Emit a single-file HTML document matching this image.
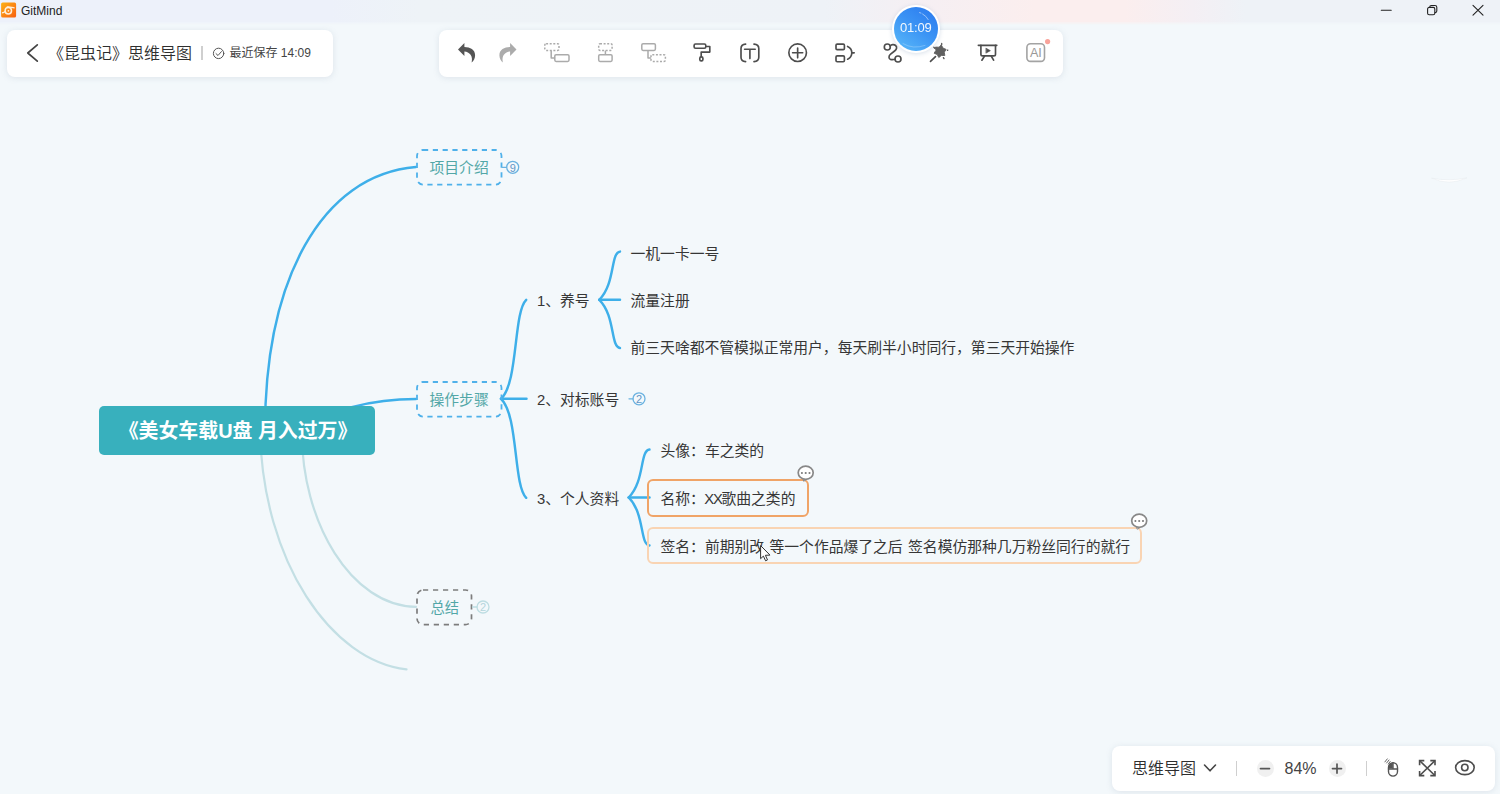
<!DOCTYPE html>
<html lang="zh-CN">
<head>
<meta charset="utf-8">
<title>GitMind</title>
<style>
*{box-sizing:border-box;margin:0;padding:0}
html,body{width:1500px;height:794px;overflow:hidden}
body{position:relative;background:#f3f8fb;font-family:"Liberation Sans","Noto Sans CJK SC",sans-serif;color:#333}
.abs{position:absolute}
#titlebar{left:0;top:0;width:1500px;height:22px;background:linear-gradient(90deg,#edf1fa 0%,#edf1fa 22%,#eef3f7 28%,#eef2f7 55%,#f5eff3 61%,#fbeeee 69%,#fbeeee 75%,#f4eff4 79.5%,#eef2f7 83%,#eef2f7 100%)}
#tfade{left:0;top:22px;width:1500px;height:3px;background:linear-gradient(90deg,#edf1fa 0%,#edf1fa 22%,#eef3f7 28%,#eef2f7 55%,#f5eff3 61%,#fbeeee 69%,#fbeeee 75%,#f4eff4 79.5%,#eef2f7 83%,#eef2f7 100%);-webkit-mask-image:linear-gradient(to bottom,rgba(0,0,0,.8),transparent);mask-image:linear-gradient(to bottom,rgba(0,0,0,.8),transparent)}
#titlebar .name{left:21px;top:3px;font-size:12px;line-height:16px;color:#222}
.panel{background:#fff;border-radius:8px;box-shadow:0 1px 6px rgba(120,140,160,.18)}
#docpanel{left:7px;top:30px;width:326px;height:47px}
#toolbar{left:439px;top:30px;width:624px;height:47px}
#zoompanel{left:1112px;top:746px;width:383px;height:45px}
svg{position:absolute;left:0;top:0;overflow:visible}
.t{position:absolute;white-space:nowrap;line-height:20px;font-size:15px;color:#333}
.dash{border:2px dashed #56b4ea;border-radius:6px}
.dash.g{border-color:#8c8c8c}
.t.l1{font-size:14.8px;color:#52a7a7}
.t{font-size:14.8px;color:#363636}
.t.num{font-size:11px;line-height:12px;width:10px;text-align:center}
</style>
</head>
<body>
<div id="titlebar" class="abs">
  <div class="abs name">GitMind</div>
</div>
<div class="abs" id="tfade"></div>
<div id="docpanel" class="abs panel"></div>
<div id="toolbar" class="abs panel"></div>
<div id="zoompanel" class="abs panel"></div>

<svg id="maplines" width="1500" height="794" viewBox="0 0 1500 794" fill="none" stroke-linecap="round">
  <g stroke="#c3dfe4" stroke-width="2.2">
    <path d="M302,430 C300.6,522 352,606.6 416,606.8"/>
    <path d="M260,430 C262.4,562 331.8,661.3 406.5,669.3"/>
  </g>
  <g stroke="#3eafe9" stroke-width="2.45">
    <path d="M265,430 C265.2,280.4 320.8,174.9 416,167"/>
    <path d="M300,430 C335,408 372,399 416,399"/>
    <path d="M501,398.8 C518.5,382.5 513.2,312.5 526.2,299.8"/>
    <path d="M501,398.8 L526.5,398.8"/>
    <path d="M501,398.8 C518.5,415.1 513.2,485.1 526.2,497.8"/>
    <path d="M599.3,299.8 C615.4,283.9 610.4,252.7 620,251.6"/>
    <path d="M599.3,299.8 L620,299.8"/>
    <path d="M599.3,299.8 C615.4,315.7 610.4,346.9 620,348"/>
    <path d="M628.7,497.5 C644.8,481.6 639.8,450.4 649.5,449.5"/>
    <path d="M628.7,497.5 L649.5,497.5"/>
    <path d="M628.7,497.5 C644.8,513.4 639.8,544.6 649.5,545.5"/>
  </g>
  <g stroke="#4fb1ea" stroke-width="1.8" stroke-dasharray="5.2 4.6" stroke-linecap="butt">
    <rect x="417" y="150" width="84.5" height="34.6" rx="6"/>
    <rect x="417" y="382" width="84.5" height="34.6" rx="6"/>
  </g>
  <rect x="417" y="590" width="54.5" height="34.6" rx="6" stroke="#7d7d7d" stroke-width="1.7" stroke-dasharray="5.2 4.8" stroke-linecap="butt"/>
  <g stroke="#6ab2e0" stroke-width="1.3">
    <path d="M502.3,167.3 L506.5,167.3"/><circle cx="512.7" cy="167.3" r="6"/>
    <path d="M629,398.8 L633,398.8"/><circle cx="639" cy="398.8" r="6"/>
  </g>
  <g stroke="#bddde2" stroke-width="1.3">
    <path d="M472.5,607 L477,607"/><circle cx="483" cy="607" r="6"/>
  </g>
</svg>

<div id="root" class="abs" style="left:99px;top:406px;width:276px;height:49px;background:#38b0bd;border-radius:5px"></div>
<div class="t" style="left:118.7px;top:419.3px;font-size:19.9px;line-height:24px;font-weight:bold;color:#fff">《美女车载U盘 月入过万》</div>
<div class="t l1" style="left:429.5px;top:158.0px">项目介绍</div>
<div class="t l1" style="left:429.5px;top:390.0px">操作步骤</div>
<div class="t l1" style="left:430.4px;top:598.2px;font-size:14.3px">总结</div>
<div class="t" style="left:537px;top:291.0px">1、养号</div>
<div class="t" style="left:537px;top:390.0px">2、对标账号</div>
<div class="t" style="left:537px;top:488.5px">3、个人资料</div>
<div class="t" style="left:630.5px;top:244.0px">一机一卡一号</div>
<div class="t" style="left:630.5px;top:291.0px">流量注册</div>
<div class="t" style="left:630.5px;top:338.0px">前三天啥都不管模拟正常用户，每天刷半小时同行，第三天开始操作</div>
<div class="abs" style="left:647px;top:479px;width:161.5px;height:38px;border:2px solid #f0a467;border-radius:6px"></div>
<div class="abs" style="left:647px;top:527px;width:495px;height:37.3px;border:2px solid #f9d4b3;border-radius:6px"></div>
<div class="t" style="left:660.5px;top:441.0px">头像：车之类的</div>
<div class="t" style="left:660.5px;top:488.5px">名称：<span style="letter-spacing:-1.3px;margin-left:-0.6px">XX</span>歌曲之类的</div>
<div class="t" style="left:660.5px;top:536.5px;word-spacing:1.3px">签名：前期别改 等一个作品爆了之后 签名模仿那种几万粉丝同行的就行</div>

<div class="t num" style="left:507.7px;top:161.5px;color:#6196c6">9</div>
<div class="t num" style="left:634px;top:393px;color:#6196c6">2</div>
<div class="t num" style="left:478px;top:601.2px;color:#b3d5db">2</div>
<div class="t" style="left:48px;top:43px;font-size:16px;line-height:22px;color:#2e2e2e;font-weight:350">《昆虫记》思维导图</div>
<div class="abs" style="left:201.3px;top:46px;width:1.5px;height:14px;background:#cfcfcf"></div>
<div class="t" style="left:229.5px;top:45px;font-size:12px;line-height:16px;color:#444">最近保存 14:09</div>
<div class="t" style="left:1132px;top:757.5px;font-size:16px;line-height:22px;color:#2e2e2e;font-weight:350">思维导图</div>
<div class="abs" style="left:1235.5px;top:761px;width:1.5px;height:15px;background:#cfcfcf"></div>
<div class="abs" style="left:1365.5px;top:761px;width:1.5px;height:15px;background:#cfcfcf"></div>
<div class="abs" style="left:1256.5px;top:760px;width:17px;height:17px;border-radius:50%;background:#f0f0f0"></div>
<div class="abs" style="left:1328.5px;top:760px;width:17px;height:17px;border-radius:50%;background:#f0f0f0"></div>
<div class="t" style="left:1284.5px;top:757.5px;font-size:16px;line-height:22px;color:#444">84%</div>
<div class="t" style="left:1026.9px;width:17.6px;text-align:center;top:45px;font-size:12.6px;line-height:16px;color:#999;letter-spacing:-0.3px">AI</div>
<div class="abs" id="timer" style="left:892px;top:5.3px;width:47.5px;height:47.5px;border-radius:50%;background:#fff;box-shadow:0 1px 4px rgba(100,130,170,.25)"><div class="abs" style="left:1.8px;top:1.8px;right:1.8px;bottom:1.8px;border-radius:50%;background:linear-gradient(215deg,#2a78ee 0%,#3a92f4 45%,#5cbcf9 100%)"></div><div class="t" style="left:0;width:47.5px;text-align:center;top:14.2px;font-size:13px;line-height:18px;color:#fff;opacity:.93;letter-spacing:-0.25px">01:09</div></div>

<svg id="icons" width="1500" height="794" viewBox="0 0 1500 794" fill="none" stroke-linecap="round" stroke-linejoin="round">
    <!-- logo -->
  <defs><linearGradient id="lg" x1="0" y1="0" x2="1" y2="1"><stop offset="0" stop-color="#fdb216"/><stop offset=".55" stop-color="#fb8414"/><stop offset="1" stop-color="#f75e10"/></linearGradient></defs>
  <rect x="1.1" y="2.4" width="15" height="15.2" rx="1.6" fill="url(#lg)" stroke="none"/>
  <g stroke="#fff6e6" stroke-width="1.5" fill="none" opacity=".95">
    <circle cx="8.3" cy="10.8" r="3.2"/>
    <path d="M7.2,6.9 C9.5,6.4 12,7.6 14.2,7.8" stroke-width="1.2"/>
    <path d="M2.6,12.7 C3.6,12.6 4.6,12.2 5.2,11.4" stroke-width="1.4"/>
  </g>
  <circle cx="8.4" cy="10.8" r="0.9" fill="#fff1d8" stroke="none"/>
  <!-- comment bubbles -->
  <g stroke="#888" stroke-width="1.7" fill="#fff">
    <path d="M803.2,479.2 L803.6,481.2 L806,479.8 Z" stroke-width="1"/>
    <ellipse cx="805.7" cy="472.8" rx="7.5" ry="6.6"/>
    <path d="M1136.7,527.2 L1137.1,529.2 L1139.5,527.8 Z" stroke-width="1"/>
    <ellipse cx="1139.2" cy="520.8" rx="7.5" ry="6.6"/>
  </g>
  <g fill="#7a7a7a" stroke="none">
    <circle cx="801.9" cy="473" r="1.05"/><circle cx="805.7" cy="473" r="1.05"/><circle cx="809.5" cy="473" r="1.05"/>
    <circle cx="1135.4" cy="521" r="1.05"/><circle cx="1139.2" cy="521" r="1.05"/><circle cx="1143" cy="521" r="1.05"/>
  </g>
  <!-- pointer -->
  <path d="M760.6,546 V558.7 L763.4,556.1 L765.6,560.8 L767.5,559.9 L765.4,555.3 L769.6,555.1 Z" fill="#fff" stroke="#333" stroke-width="1" stroke-linejoin="miter"/>
  <!-- faint crescent -->
  <path d="M1432,178.2 Q1449,186.5 1467,177.8 Q1449,181.6 1432,178.2 Z" fill="#fff" stroke="#e8edf0" stroke-width="0.6"/>
  <g stroke="#fff" stroke-width="0.9" opacity=".55" fill="none"><path d="M919.5,12.6 L921,13.1"/><path d="M922.6,14 Q926.4,16 928.2,19.6"/><path d="M903,43.6 Q913,49.6 925,45.4" opacity=".5"/></g>
  <!-- window controls -->
  <g stroke="#222" stroke-width="1.1">
    <path d="M1381.3,10.2 H1391.2"/>
    <rect x="1427.6" y="7.4" width="7.2" height="7.4" rx="1.6"/>
    <path d="M1429.8,7.2 V6.9 Q1429.8,5.5 1431.3,5.5 H1435 Q1436.8,5.5 1436.8,7.3 V11 Q1436.8,12.6 1435.2,12.6"/>
    <path d="M1473,5.4 L1483,15.2 M1483,5.4 L1473,15.2"/>
  </g>
  <!-- back chevron -->
  <path d="M37.3,44.8 L27.8,53 L37.3,61.2" stroke="#444" stroke-width="1.7"/>
  <!-- check circle -->
  <g stroke="#555" stroke-width="1"><circle cx="218.6" cy="53.4" r="5.2"/><path d="M216,53.6 L218,55.5 L221.4,51.6"/></g>
  <!-- zoom panel icons -->
  <path d="M1204.5,765 L1210,770.8 L1215.5,765" stroke="#444" stroke-width="1.6"/>
  <g stroke="#555" stroke-width="1.7"><path d="M1260.5,768.6 H1269.5"/><path d="M1332.5,768.6 H1341.5 M1337,764.1 V773.1"/></g>
  <!-- undo / redo -->
  <path id="undo" d="M458,49.5 L464.4,43.1 V47.1 C470.2,47.1 475.1,49.9 475.1,55.2 C475.1,58.2 473.6,61 471.6,62.5 C472.2,60 472.2,57 470.6,54.8 C469.1,52.6 467,51.5 464.4,51.4 V55.9 Z" fill="#555" stroke="none"/>
  <path d="M516.5,49.5 L510.1,43.1 V47.1 C504.3,47.1 499.4,49.9 499.4,55.2 C499.4,58.2 500.9,61 502.9,62.5 C502.3,60 502.3,57 503.9,54.8 C505.4,52.6 507.5,51.5 510.1,51.4 V55.9 Z" fill="#ababab" stroke="none"/>
  <!-- node insert icons (disabled) -->
  <g stroke="#ababab" stroke-width="1.5" stroke-linecap="butt">
    <rect x="544.8" y="43.8" width="14.2" height="6.6" rx="1.3" stroke-dasharray="2 1.6"/>
    <rect x="554.8" y="54.8" width="14.2" height="6.6" rx="1.3"/>
    <path d="M551.2,50.6 V58.1 H554.8"/>
    <rect x="598.7" y="43.8" width="13.4" height="6.6" rx="1.3" stroke-dasharray="2 1.6"/>
    <rect x="598.7" y="54.8" width="13.4" height="6.6" rx="1.3"/>
    <path d="M605.4,50.6 V54.8"/>
    <rect x="641.8" y="43.8" width="13.6" height="6.6" rx="1.3"/>
    <rect x="651" y="54.8" width="14.4" height="6.6" rx="1.3" stroke-dasharray="2 1.6"/>
    <path d="M648,50.6 V58.1 H651"/>
  </g>
  <g stroke="#4d4d4d" stroke-width="1.65">
    <!-- paint roller -->
    <rect x="694.1" y="44" width="11.7" height="4.2" rx="1.4"/>
    <path d="M706.6,46.5 H709.8 V52.1 H701.2 V56.6"/>
    <rect x="699.8" y="56.9" width="3.1" height="3.9" rx="1.4"/>
    <!-- [T] -->
    <path d="M745.6,44.1 C742.3,44.3 741,45.6 741,48.6 V57.2 C741,60.2 742.3,61.4 745.6,61.6"/>
    <path d="M754,44.1 C757.3,44.3 758.8,45.6 758.8,48.6 V57.2 C758.8,60.2 757.3,61.4 754,61.6"/>
    <path d="M744.6,49.2 H755.2 M749.9,49.2 V58.6"/>
    <!-- add circle -->
    <circle cx="797.65" cy="52.7" r="8.8"/>
    <path d="M792.6,52.7 H802.7 M797.65,48 V57.8"/>
    <!-- summary -->
    <rect x="836" y="44.1" width="8.4" height="5.6" rx="1.2"/>
    <rect x="836" y="55.9" width="8.4" height="5.8" rx="1.2"/>
    <path d="M847.6,46.4 C850.4,47.6 851.8,50 851.8,52.8 C851.8,55.6 850.4,58 847.6,59.2 M851.8,52.8 H854.2"/>
    <!-- relationship -->
    <circle cx="887.3" cy="47" r="3"/>
    <circle cx="898" cy="59" r="3"/>
    <path d="M890.2,46 C891.4,44.4 894,44.2 895.6,45.5 C897.5,47.1 896.6,49.4 894.6,51 L890.6,54.2 C888.4,56 888.5,58.6 890.6,59.4 C892,59.9 893.5,59.7 895,59.3"/>
    <!-- wand -->
    <path d="M930.5,61.4 L935.5,56.6"/>
    <!-- presentation -->
    <path d="M978.3,45.3 H996.8" />
    <path d="M980.9,45.3 V54.2 Q980.9,55.9 982.6,55.9 H993.8 Q995.5,55.9 995.5,54.2 V45.3"/>
    <path d="M984.6,56 L981.9,60.2 M991.2,56 L993.6,60.2"/>
  </g>
  <path d="M986.2,48.3 L990.4,50.65 L986.2,53 Z" fill="#4d4d4d" stroke="#4d4d4d" stroke-width="0.6"/>
  <!-- wand star -->
  <path d="M941.4,45.1 L943.0,48.1 L946.1,49.4 L944.3,52.2 L944.8,55.5 L941.4,55.4 L938.8,57.5 L937.2,54.5 L934.1,53.2 L935.9,50.4 L935.4,47.1 L938.8,47.2 Z" fill="#606060" stroke="#606060" stroke-width="0.9" stroke-linejoin="round"/>
  <g stroke="#555" stroke-width="1.3">
    <path d="M941.7,43.4 V44.4 M933.8,47.2 L934.8,48.2 M947.4,50.3 L947.8,50.1 M943.4,57.6 L944,58.6"/>
  </g>
  <!-- AI -->
  <rect x="1026.9" y="43.8" width="17.6" height="17.6" rx="3.6" stroke="#a3a3a3" stroke-width="1.6"/>
  <circle cx="1047.6" cy="41.6" r="2.6" fill="#f9a39b" stroke="none"/>
  <!-- mouse -->
  <g stroke="#555" stroke-width="1.4">
    <rect x="1388.5" y="762.7" width="9" height="13.4" rx="4.5"/>
    <path d="M1388.5,769 H1397.5 M1393,762.7 V769"/>
    <path d="M1388.7,768.6 V767 Q1388.8,763.2 1392.8,762.9 V768.6 Z" fill="#555" stroke="none"/>
    <path d="M1384.9,761.9 L1387.3,758.9 M1386.6,763 L1389,760 M1388.3,764 L1390.2,761.5" stroke-width="0.9"/>
  </g>
  <!-- fullscreen -->
  <g stroke="#4d4d4d" stroke-width="1.6" stroke-linejoin="miter" stroke-linecap="butt">
    <path d="M1419.6,765.3 V760.6 H1424.3 M1430.3,760.6 H1435 V765.3 M1435,770.9 V775.6 H1430.3 M1424.3,775.6 H1419.6 V770.9"/>
    <path d="M1420,761 L1434.6,775.2 M1434.6,761 L1420,775.2"/>
  </g>
  <!-- eye -->
  <g stroke="#4d4d4d" stroke-width="1.6">
    <ellipse cx="1464.9" cy="767.6" rx="9.3" ry="7"/>
    <circle cx="1464.8" cy="767.5" r="3.2"/>
  </g>

</svg>

</body>
</html>
